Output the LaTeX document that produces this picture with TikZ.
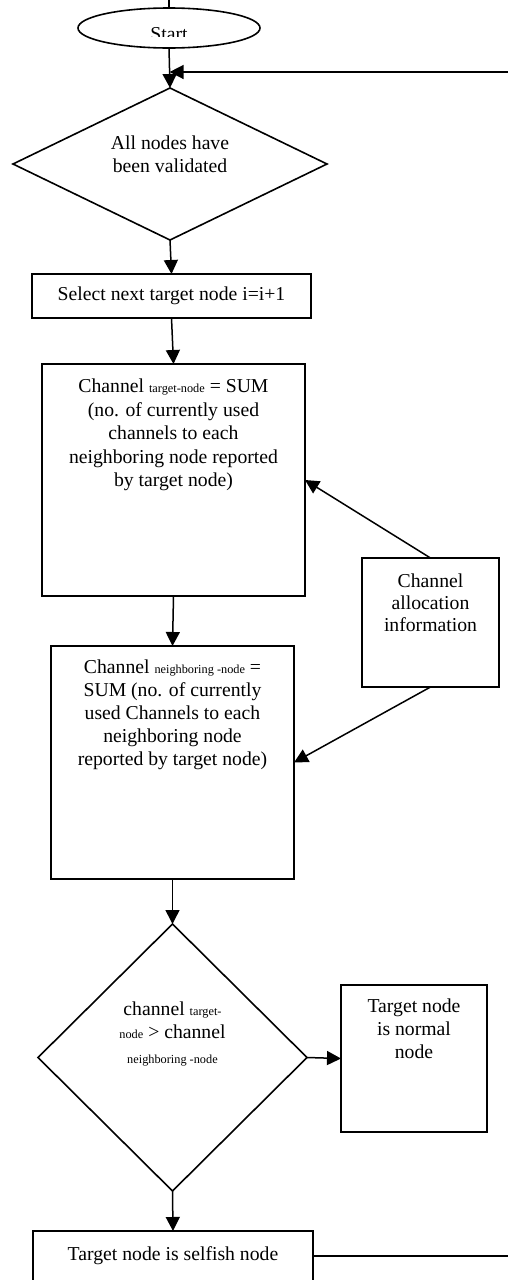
\documentclass[tikz,border=0pt]{standalone}
\usepackage{fontspec}
\setmainfont{Liberation Serif}
\usetikzlibrary{shapes.geometric,arrows.meta,calc}
% invisible strut fixing the height of the first text line
\newcommand\firstline{\rule{0pt}{15pt}}
% small inline index text
\newcommand\subtxt[1]{{\fontsize{12.3}{14}\selectfont #1}}

\begin{document}
\begin{tikzpicture}[x=1pt,y=-1pt,
  every node/.style={font=\fontsize{19.7}{23.5}\selectfont},
  box/.style={draw, line width=1.6pt, inner sep=0pt, outer sep=0pt},
  txt/.style={inner sep=0pt, outer sep=0pt, align=center, anchor=north},
  flow/.style={line width=1.5pt, -{Triangle[length=14pt,width=14pt]}},
  plain/.style={line width=1.5pt}]
\clip (0,0) rectangle (508,1280);

% ---- shapes ----
\node[box, ellipse, minimum width=182pt, minimum height=40pt] (start) at (169,28) {};
\begin{scope}
  \clip (100,0) rectangle (240,36);
  \node[inner sep=0pt, anchor=base] (starttxt) at (169,40) {Start};
\end{scope}

\node[box, diamond, minimum width=314pt, minimum height=152pt] (d1) at (170,164) {};
\node[txt, font=\fontsize{19.7}{22.5}\selectfont] (d1txt) at (170,134.5)
  {\firstline All nodes have\\been validated};

\node[box, minimum width=279pt, minimum height=44pt] (sel) at (171.5,296)
  {Select next target node i=i+1};

\node[box, minimum width=263pt, minimum height=232pt] (b2) at (173.5,480) {};
\node[txt] (b2txt) at (173.5,377.5)
  {\firstline Channel \subtxt{target-node} = SUM\\(no. of currently used\\channels to each\\neighboring node reported\\by target node)};

\node[box, minimum width=137pt, minimum height=129pt] (ca) at (430.5,622.5) {};
\node[txt, font=\fontsize{19.7}{22}\selectfont] (catxt) at (430.5,572.5)
  {\firstline Channel\\allocation\\information};

\node[box, minimum width=243pt, minimum height=233pt] (b3) at (172.5,762.5) {};
\node[txt, font=\fontsize{19.7}{23}\selectfont] (b3txt) at (172.5,658.5)
  {\firstline Channel \subtxt{neighboring -node} =\\SUM (no. of currently\\used Channels to each\\neighboring node\\reported by target node)};

\node[box, diamond, minimum width=269pt, minimum height=267pt] (d2) at (172.5,1057.5) {};
\node[txt, font=\fontsize{19.7}{23}\selectfont] (d2txt) at (172.5,1000)
  {\firstline channel \subtxt{target-}\\\subtxt{node} > channel\\[2pt]\subtxt{neighboring -node}};

\node[box, minimum width=146pt, minimum height=147pt] (nb) at (414,1058.5) {};
\node[txt, font=\fontsize{19.7}{22.75}\selectfont] (nbtxt) at (414,997.5)
  {\firstline Target node\\is normal\\node};

\node[box, minimum width=280pt, minimum height=50pt] (sf) at (173,1256)
  {Target node is selfish node};

% ---- connectors ----
\coordinate (topin) at (169,-4);
\coordinate (join) at ($(start.south)!0.6!(d1.north)$);
\draw[plain] (topin) -- (start.north);
\draw[flow] (start.south) -- (d1.north);
\draw[flow] (sf.east) -- ++(230,0) |- (join);
\draw[flow] (d1.south) -- (sel.north);
\draw[flow] (sel.south) -- (b2.north);
\draw[flow] (b2.south) -- (b3.north);
\draw[flow] (ca.north) -- (b2.east);
\draw[flow] (ca.south) -- (b3.east);
\draw[flow] (b3.south) -- (d2.north);
\draw[flow] (d2.east) -- (nb.west);
\draw[flow] (d2.south) -- (sf.north);
\end{tikzpicture}
\end{document}
